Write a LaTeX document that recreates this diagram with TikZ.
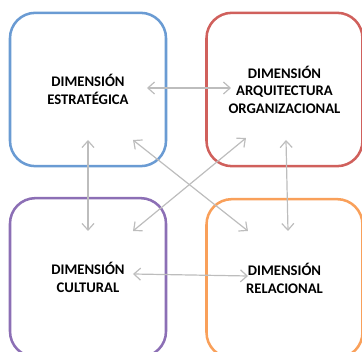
\documentclass[tikz,border=0pt]{standalone}
\usepackage{fontspec}
\setmainfont{Carlito}
\usetikzlibrary{arrows.meta}
\definecolor{dimblue}{HTML}{6A9BD3}
\definecolor{dimred}{HTML}{D0605C}
\definecolor{dimpurple}{HTML}{8C6FB5}
\definecolor{dimorange}{HTML}{F9A05A}
\definecolor{linkgray}{HTML}{BDBDBD}
\begin{document}
\begin{tikzpicture}[x=0.75pt, y=-0.75pt,
    dimbox/.style={draw, line width=1.9pt, rounded corners=19pt, minimum width=117pt, minimum height=115pt,
        align=center, font=\bfseries\fontsize{11}{13.2}\selectfont},
    link/.style={{Straight Barb[length=5pt,width=9pt]}-{Straight Barb[length=5pt,width=9pt]}, draw=linkgray, line width=0.9pt}]
    \useasboundingbox (0,0) rectangle (362,352);
    \node[dimbox, draw=dimblue] (estrategica) at (88,89.5) {DIMENSIÓN\\ESTRATÉGICA};
    \node[dimbox, draw=dimred] (arquitectura) at (284.5,89.5) {DIMENSIÓN\\ARQUITECTURA\\ORGANIZACIONAL};
    \node[dimbox, draw=dimpurple, minimum height=119pt] (cultural) at (88,277.5) {DIMENSIÓN\\CULTURAL};
    \node[dimbox, draw=dimorange, minimum height=119pt] (relacional) at (284.5,278.5) {DIMENSIÓN\\RELACIONAL};
    \coordinate (estR) at (147,88);
    \coordinate (estB) at (88,140);
    \coordinate (estD) at (133,140);
    \coordinate (arqL) at (231,88);
    \coordinate (arqB) at (286,140);
    \coordinate (arqD) at (246,138);
    \coordinate (culT) at (88,231);
    \coordinate (culD) at (133,231);
    \coordinate (culR) at (133,274);
    \coordinate (relT) at (288,231);
    \coordinate (relD) at (248,231);
    \coordinate (relL) at (248,276);
    \draw[link] (estR) -- (arqL);
    \draw[link] (estB) -- (culT);
    \draw[link] (arqB) -- (relT);
    \draw[link] (estD) -- (relD);
    \draw[link] (arqD) -- (culD);
    \draw[link] (culR) -- (relL);
\end{tikzpicture}
\end{document}
